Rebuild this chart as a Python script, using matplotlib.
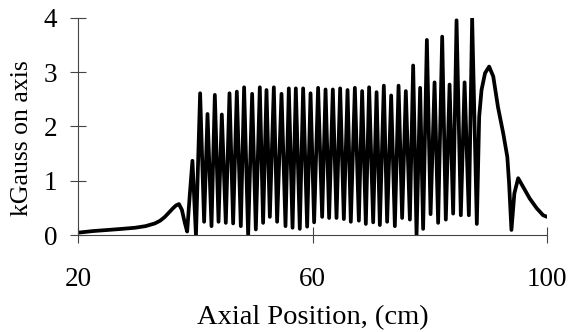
import numpy as np
import matplotlib
matplotlib.use("Agg")
import matplotlib.pyplot as plt

# slow rise before the wiggler section (cm, kGauss)
lead_x = [20.0, 22.6, 25.1, 27.5, 29.7, 31.5, 33.1, 34.0, 34.8, 35.5, 36.2, 36.7,
          37.2, 37.7, 38.2, 38.6, 39.05, 39.5, 40.1]
lead_y = [0.05, 0.08, 0.10, 0.12, 0.14, 0.17, 0.22, 0.27, 0.34, 0.42, 0.50, 0.55,
          0.575, 0.47, 0.23, 0.07, 0.75, 1.37, 0.0]

# field peaks along the wiggler
peak_x = [40.81, 42.07, 43.32, 44.51, 45.82, 47.07, 48.31, 49.68, 50.99, 52.13,
          53.38, 54.69, 55.94, 57.13, 58.38, 59.64, 60.93, 62.20, 63.44, 64.69,
          65.95, 67.20, 68.44, 69.63, 70.90, 72.14, 73.39, 74.65, 75.89, 77.14,
          78.33, 79.48, 80.79, 82.09, 83.35, 84.54, 85.91, 87.20]
peak_y = [2.61, 2.23, 2.58, 2.22, 2.61, 2.64, 2.72, 2.60, 2.72, 2.67,
          2.72, 2.60, 2.70, 2.70, 2.70, 2.61, 2.71, 2.68, 2.68, 2.70,
          2.67, 2.71, 2.65, 2.72, 2.63, 2.75, 2.57, 2.75, 2.65, 3.12,
          2.71, 3.59, 2.81, 3.65, 2.77, 3.95, 2.81, 3.99]

# field minima following each peak
trough_x = [41.49, 42.75, 43.95, 45.19, 46.44, 47.75, 49.00, 50.31, 51.55, 52.70,
            53.94, 55.37, 56.57, 57.81, 59.06, 60.25, 61.62, 62.81, 64.07, 65.32,
            66.51, 67.88, 69.07, 70.32, 71.46, 72.70, 74.02, 75.26, 76.58, 77.72,
            78.84, 80.11, 81.40, 82.71, 83.96, 85.27, 86.64, 88.00]
trough_y = [0.25, 0.17, 0.25, 0.23, 0.22, 0.17, 0.0, 0.11, 0.23, 0.34,
            0.25, 0.17, 0.14, 0.12, 0.16, 0.24, 0.34, 0.32, 0.32, 0.30,
            0.25, 0.27, 0.21, 0.24, 0.19, 0.25, 0.17, 0.32, 0.29, 0.0,
            0.12, 0.39, 0.23, 0.29, 0.40, 0.37, 0.37, 0.21]

# end field after the wiggler
tail_x = [88.4, 88.8, 89.4, 90.1, 90.8, 91.6, 92.5, 93.2, 93.5, 93.9,
          94.4, 95.05, 95.9, 97.0, 98.2, 99.3, 100.0]
tail_y = [2.18, 2.67, 2.98, 3.10, 2.92, 2.36, 1.875, 1.44, 0.96, 0.10,
          0.77, 1.05, 0.89, 0.68, 0.50, 0.37, 0.34]

mid_x = [v for pair in zip(peak_x, trough_x) for v in pair]
mid_y = [v for pair in zip(peak_y, trough_y) for v in pair]
x = np.array(lead_x + mid_x + tail_x)
y = np.array(lead_y + mid_y + tail_y)

plt.rcParams['font.family'] = ['Liberation Serif', 'DejaVu Serif']

fig = plt.figure(figsize=(5.7, 3.32), dpi=100)
ax = fig.add_axes([0.137, 0.291, 0.823, 0.656])

ax.plot(x, y, color='black', lw=2.7, solid_joinstyle='round')

ax.set_xlim(20, 100)
ax.set_ylim(0, 4)
ax.set_xticks([20, 60, 100])
ax.set_yticks([0, 1, 2, 3, 4])

for s in ['top', 'right']:
    ax.spines[s].set_visible(False)
for s in ['left', 'bottom']:
    ax.spines[s].set_color('#444444')
    ax.spines[s].set_linewidth(0.8)

ax.tick_params(axis='both', direction='inout', length=12, width=0.8,
               color='#444444', labelsize=19.5)
ax.tick_params(axis='x', pad=17)
ax.tick_params(axis='y', pad=9)

ax.set_xlabel('Axial Position, (cm)', fontsize=20.5, labelpad=9)
# y label sits a little below the axes centre in the original
fig.text(21.7 / 570, 1 - 138 / 332, 'kGauss on axis', fontsize=18.5,
         rotation=90, ha='center', va='center')

fig.savefig('out.png', dpi=100)
